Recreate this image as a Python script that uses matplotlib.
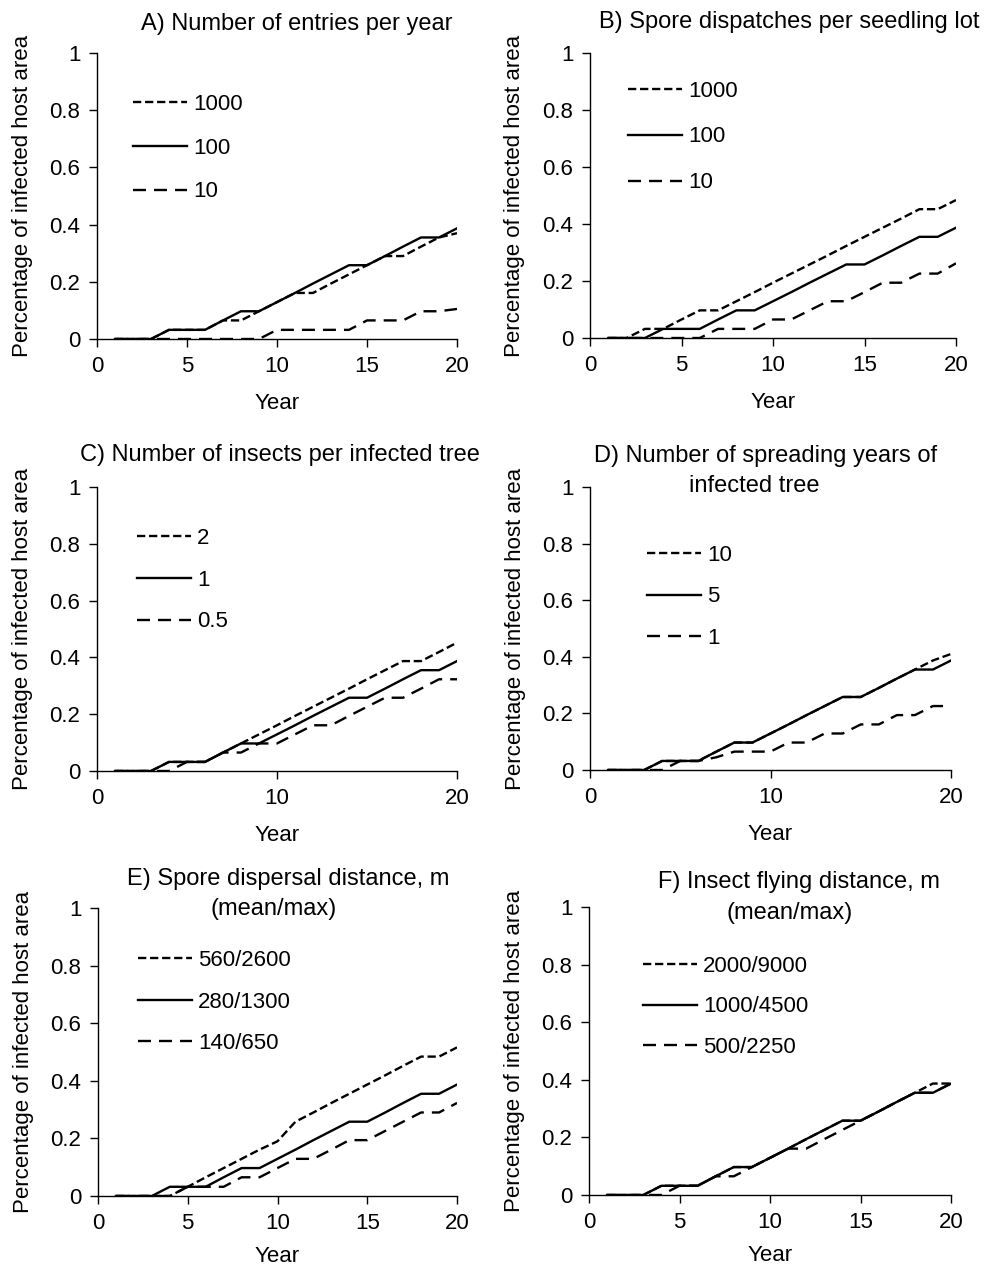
import matplotlib.pyplot as plt

plt.rcParams['font.family'] = ['Liberation Sans', 'DejaVu Sans']
plt.rcParams['font.size'] = 16

W, H = 989, 1269

years = list(range(1, 21))

# the reference run (solid line) is the same in every panel
base = [0, 0, 0, 0.032, 0.032, 0.032, 0.065, 0.097, 0.097, 0.129,
        0.161, 0.194, 0.226, 0.258, 0.258, 0.29, 0.323, 0.355, 0.355, 0.387]

# A) Number of entries per year
a_labels = ['1000', '100', '10']
a_high = [0, 0, 0, 0.032, 0.032, 0.032, 0.065, 0.065, 0.097, 0.129,
          0.161, 0.161, 0.194, 0.226, 0.258, 0.29, 0.29, 0.323, 0.355, 0.37]
a_low = [0, 0, 0, 0, 0, 0, 0, 0, 0, 0.032,
         0.032, 0.032, 0.032, 0.032, 0.065, 0.065, 0.065, 0.097, 0.097, 0.105]

# B) Spore dispatches per seedling lot
b_labels = ['1000', '100', '10']
b_high = [0, 0, 0.032, 0.032, 0.065, 0.097, 0.097, 0.129, 0.161, 0.194,
          0.226, 0.258, 0.29, 0.323, 0.355, 0.387, 0.419, 0.452, 0.452, 0.484]
b_low = [0, 0, 0, 0, 0, 0, 0.032, 0.032, 0.032, 0.065,
         0.065, 0.097, 0.129, 0.129, 0.161, 0.194, 0.194, 0.226, 0.226, 0.262]

# C) Number of insects per infected tree
c_labels = ['2', '1', '0.5']
c_high = [0, 0, 0, 0.032, 0.032, 0.032, 0.065, 0.097, 0.129, 0.161,
          0.194, 0.226, 0.258, 0.29, 0.323, 0.355, 0.387, 0.387, 0.419, 0.452]
c_low = [0, 0, 0, 0, 0.032, 0.032, 0.065, 0.065, 0.097, 0.097,
         0.129, 0.161, 0.161, 0.194, 0.226, 0.258, 0.258, 0.29, 0.323, 0.323]

# D) Number of spreading years of infected tree
d_labels = ['10', '5', '1']
d_high = [0, 0, 0, 0.032, 0.032, 0.032, 0.065, 0.097, 0.097, 0.129,
          0.161, 0.194, 0.226, 0.258, 0.258, 0.29, 0.323, 0.355, 0.387, 0.41]
d_low = [0, 0, 0, 0, 0.032, 0.032, 0.045, 0.065, 0.065, 0.065,
         0.097, 0.097, 0.129, 0.129, 0.161, 0.161, 0.194, 0.194, 0.226, 0.226]

# E) Spore dispersal distance
e_labels = ['560/2600', '280/1300', '140/650']
e_high = [0, 0, 0, 0, 0.032, 0.065, 0.097, 0.129, 0.161, 0.19,
          0.258, 0.29, 0.323, 0.355, 0.387, 0.419, 0.452, 0.484, 0.484, 0.516]
e_low = [0, 0, 0, 0, 0.032, 0.032, 0.032, 0.065, 0.065, 0.097,
         0.129, 0.129, 0.161, 0.194, 0.194, 0.226, 0.258, 0.29, 0.29, 0.323]

# F) Insect flying distance
f_labels = ['2000/9000', '1000/4500', '500/2250']
f_high = [0, 0, 0, 0.032, 0.032, 0.032, 0.065, 0.097, 0.097, 0.129,
          0.161, 0.194, 0.226, 0.258, 0.258, 0.29, 0.323, 0.355, 0.387, 0.387]
f_low = [0, 0, 0, 0, 0.032, 0.032, 0.065, 0.065, 0.097, 0.129,
         0.161, 0.161, 0.194, 0.226, 0.258, 0.29, 0.323, 0.355, 0.355, 0.387]

panels = [
    (['A) Number of entries per year'], a_labels, a_high, a_low),
    (['B) Spore dispatches per seedling lot'], b_labels, b_high, b_low),
    (['C) Number of insects per infected tree'], c_labels, c_high, c_low),
    (['D) Number of spreading years of', 'infected tree'], d_labels, d_high, d_low),
    (['E) Spore dispersal distance, m', '(mean/max)'], e_labels, e_high, e_low),
    (['F) Insect flying distance, m', '(mean/max)'], f_labels, f_high, f_low),
]

# layout in pixels: left, right, top, bottom of each plot area
boxes = [(97, 457, 53, 339), (590, 956, 53, 338),
         (97, 457, 487, 771), (590, 951, 487, 770),
         (98, 457, 908, 1196), (589, 951, 907, 1195)]
# title line centres (x) and baselines (y)
title_pos = [[(297, 30)], [(789, 28)],
             [(280, 461)], [(766, 462), (754, 492)],
             [(288, 885), (274, 915)], [(799, 888), (790, 919)]]
# legend anchor (left of handles, middle row) in pixels, and row spacing
legend_pos = [(133, 148), (628, 137), (137, 580), (647, 597), (138, 1002), (643, 1007)]
legend_gap = [1.03, 1.12, 0.94, 0.92, 0.92, 0.87]
xlabel_y = [-0.19, -0.19, -0.19, -0.19, -0.172, -0.172]
xticks = [[0, 5, 10, 15, 20], [0, 5, 10, 15, 20], [0, 10, 20],
          [0, 10, 20], [0, 5, 10, 15, 20], [0, 5, 10, 15, 20]]

short_dash = (0, (3.5, 1.6))
long_dash = (0, (5.5, 3.4))

fig = plt.figure(figsize=(W / 100, H / 100), dpi=100)

for i, (title, labels, high, low) in enumerate(panels):
    l, r, t, b = boxes[i]
    ax = fig.add_axes([l / W, 1 - b / H, (r - l) / W, (b - t) / H])
    ax.plot(years, high, color='black', lw=1.7, linestyle=short_dash, label=labels[0])
    ax.plot(years, base, color='black', lw=1.7, label=labels[1])
    ax.plot(years, low, color='black', lw=1.7, linestyle=long_dash, label=labels[2])

    ax.set_xlim(0, 20)
    ax.set_ylim(0, 1)
    ax.set_xticks(xticks[i])
    ax.set_yticks([0, 0.2, 0.4, 0.6, 0.8, 1])
    ax.set_yticklabels(['0', '0.2', '0.4', '0.6', '0.8', '1'])
    ax.spines['top'].set_visible(False)
    ax.spines['right'].set_visible(False)
    for s in ['left', 'bottom']:
        ax.spines[s].set_linewidth(1.0)
    ax.tick_params(direction='out', length=6, width=1.0, pad=6)

    ax.set_xlabel('Year')
    ax.xaxis.set_label_coords(0.5, xlabel_y[i])
    ax.set_ylabel('Percentage of infected host area')
    ax.yaxis.set_label_coords(-0.178, 0.5)

    lx, ly = legend_pos[i]
    ax.legend(loc='center left', frameon=False,
              bbox_to_anchor=((lx - l) / (r - l), (b - ly) / (b - t)),
              borderpad=0, borderaxespad=0, handlelength=2.45,
              handletextpad=0.25, labelspacing=legend_gap[i])

    for line, (tx, ty) in zip(title, title_pos[i]):
        fig.text(tx / W, 1 - ty / H, line, ha='center', va='baseline', fontsize=17)

fig.savefig('out.png', dpi=100)
